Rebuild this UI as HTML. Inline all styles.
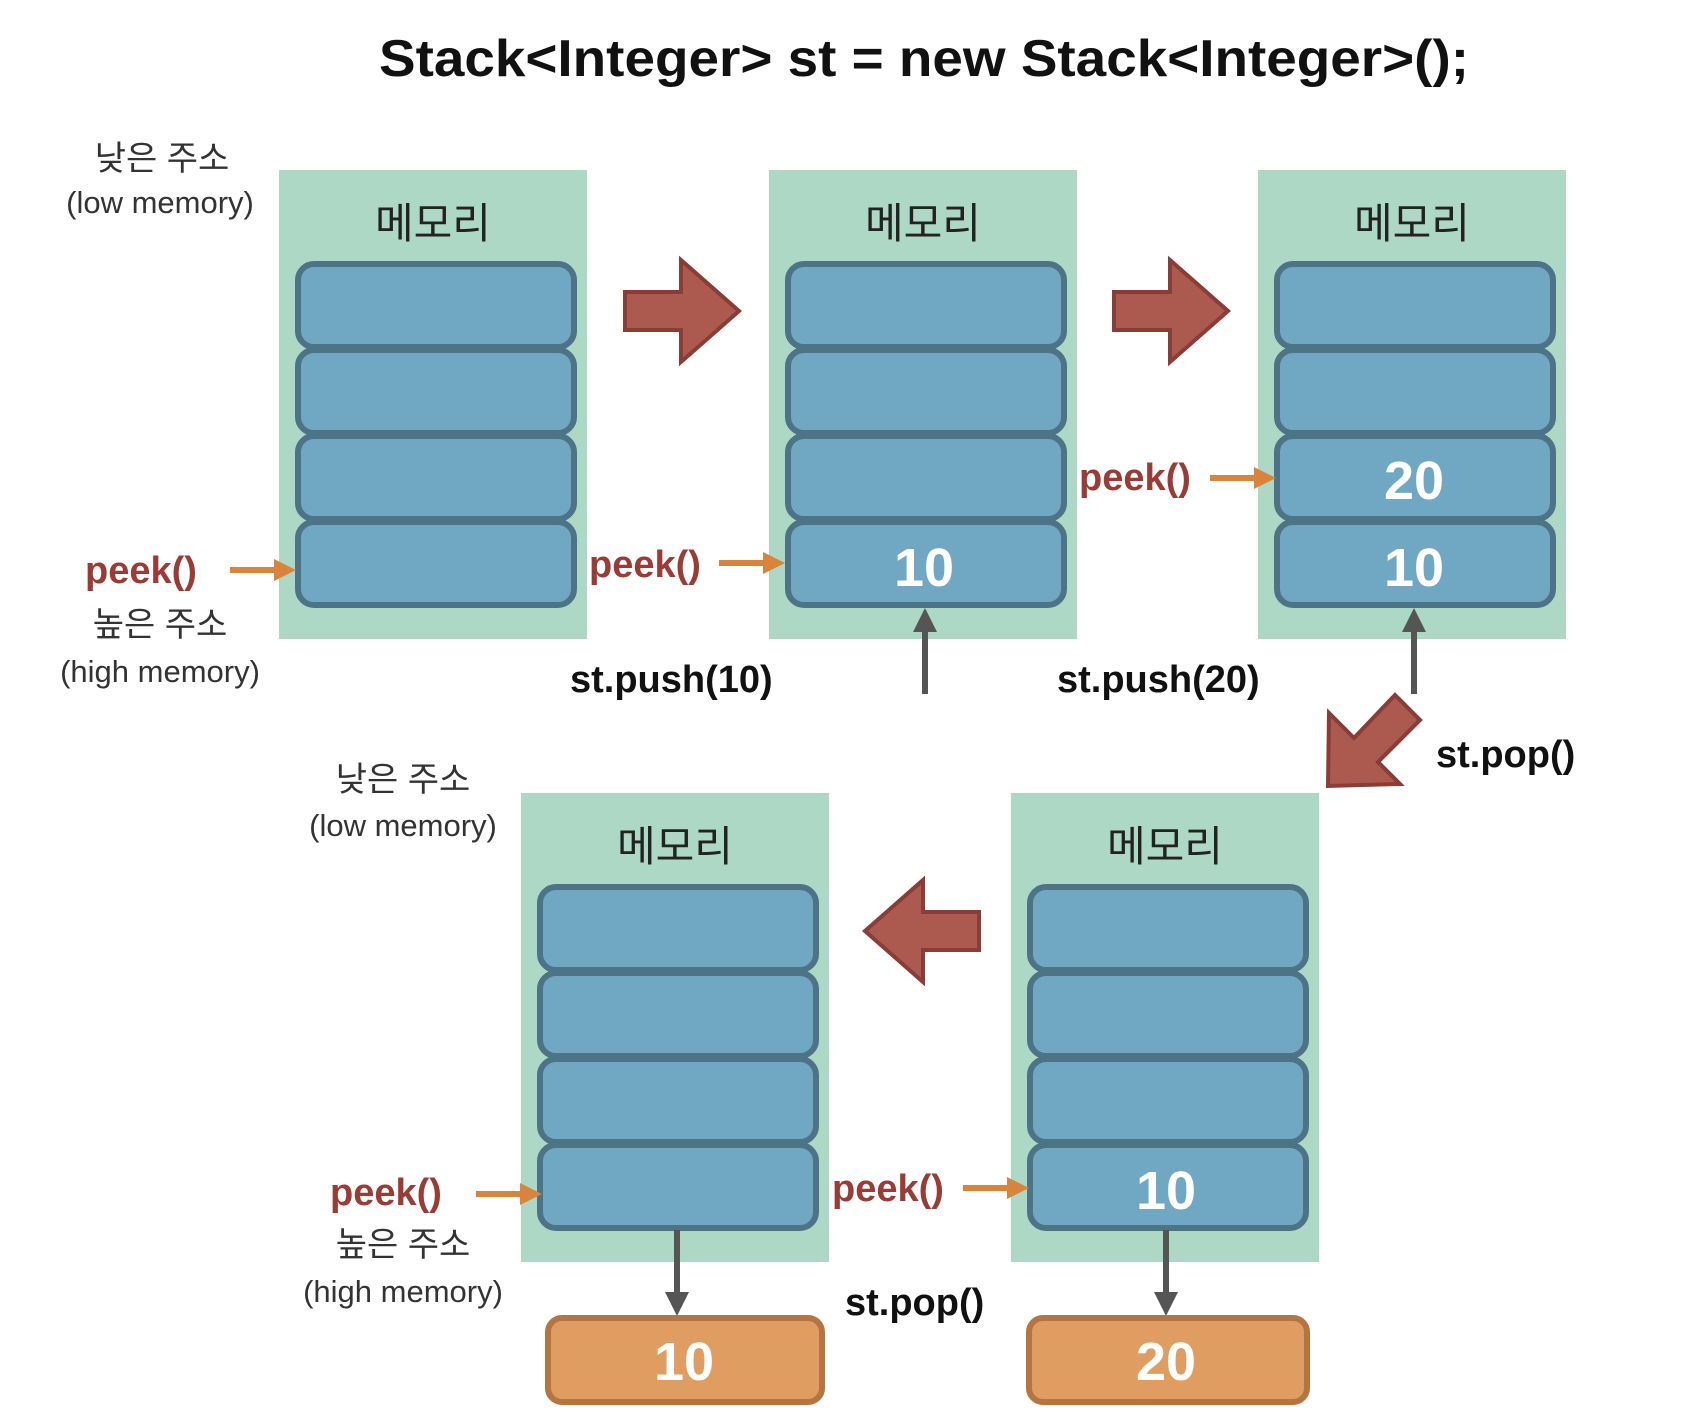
<!DOCTYPE html>
<html><head><meta charset="utf-8"><style>
html,body{margin:0;padding:0;background:#fff;}
svg{display:block;}
text{font-family:"Liberation Sans","Noto Sans CJK KR",sans-serif;}
</style></head><body>
<svg width="1696" height="1426" viewBox="0 0 1696 1426" xmlns="http://www.w3.org/2000/svg">
<defs>
<g id="panel">
  <rect x="0" y="0" width="308" height="469" fill="#aed8c6"/>
  <text x="154" y="68" font-size="42" text-anchor="middle" fill="#222">메모리</text>
  <rect x="19" y="94" width="276" height="83" rx="16" fill="#70a7c2" stroke="#4d7387" stroke-width="6"/>
  <rect x="19" y="180" width="276" height="83" rx="16" fill="#70a7c2" stroke="#4d7387" stroke-width="6"/>
  <rect x="19" y="266" width="276" height="83" rx="16" fill="#70a7c2" stroke="#4d7387" stroke-width="6"/>
  <rect x="19" y="352" width="276" height="83" rx="16" fill="#70a7c2" stroke="#4d7387" stroke-width="6"/>
</g>
<g id="orArrow"><line x1="0" y1="0" x2="50" y2="0" stroke="#d9843a" stroke-width="6"/><path d="M44,-11 L66,0 L44,11 z" fill="#d9843a"/></g>
<path id="bigR" d="M0,32 L56,32 L56,0 L114,51 L56,102 L56,70 L0,70 z" fill="#ac5a50" stroke="#8a3d37" stroke-width="4"/>
</defs>

<text x="924" y="76" font-size="52" font-weight="bold" text-anchor="middle" fill="#111" textLength="1090" lengthAdjust="spacingAndGlyphs">Stack&lt;Integer&gt; st = new Stack&lt;Integer&gt;();</text>

<use href="#panel" x="279" y="170"/>
<use href="#panel" x="769" y="170"/>
<use href="#panel" x="1258" y="170"/>
<use href="#panel" x="521" y="793"/>
<use href="#panel" x="1011" y="793"/>

<g font-size="54" font-weight="bold" fill="#fff" text-anchor="middle">
<text x="924" y="586">10</text>
<text x="1414" y="499">20</text>
<text x="1414" y="586">10</text>
<text x="1166" y="1209">10</text>
</g>

<use href="#bigR" x="625" y="260"/>
<use href="#bigR" x="1114" y="260"/>
<use href="#bigR" transform="translate(979,982) rotate(180)"/>
<path d="M1328,786 L1329,713 L1354,738 L1395,695 L1420,720 L1378,762 L1400,784 z" fill="#ac5a50" stroke="#8a3d37" stroke-width="4"/>

<g font-size="38" font-weight="bold" fill="#9b3b36">
<text x="85" y="583">peek()</text>
<text x="589" y="577">peek()</text>
<text x="1079" y="490">peek()</text>
<text x="330" y="1205">peek()</text>
<text x="832" y="1201">peek()</text>
</g>
<use href="#orArrow" x="230" y="570"/>
<use href="#orArrow" x="719" y="563"/>
<use href="#orArrow" x="1210" y="478"/>
<use href="#orArrow" x="476" y="1194"/>
<use href="#orArrow" x="963" y="1188"/>

<g font-size="34" fill="#333" text-anchor="middle">
<text x="162" y="170">낮은 주소</text>
<text x="160" y="213" font-size="31">(low memory)</text>
<text x="160" y="636">높은 주소</text>
<text x="160" y="682" font-size="31">(high memory)</text>
<text x="403" y="791">낮은 주소</text>
<text x="403" y="836" font-size="31">(low memory)</text>
<text x="403" y="1256">높은 주소</text>
<text x="403" y="1302" font-size="31">(high memory)</text>
</g>

<g font-size="38" font-weight="bold" fill="#111">
<text x="570" y="692">st.push(10)</text>
<text x="1057" y="692">st.push(20)</text>
<text x="1436" y="767">st.pop()</text>
<text x="845" y="1315">st.pop()</text>
</g>

<g stroke="#555" stroke-width="6">
<line x1="925" y1="694" x2="925" y2="630"/>
<line x1="1414" y1="694" x2="1414" y2="630"/>
<line x1="677" y1="1230" x2="677" y2="1296"/>
<line x1="1166" y1="1230" x2="1166" y2="1296"/>
</g>
<g fill="#555">
<path d="M913,632 L925,608 L937,632 z"/>
<path d="M1402,632 L1414,608 L1426,632 z"/>
<path d="M665,1292 L677,1316 L689,1292 z"/>
<path d="M1154,1292 L1166,1316 L1178,1292 z"/>
</g>

<rect x="548" y="1318" width="274" height="84" rx="14" fill="#e09d61" stroke="#b47543" stroke-width="6"/>
<rect x="1029" y="1318" width="278" height="84" rx="14" fill="#e09d61" stroke="#b47543" stroke-width="6"/>
<g font-size="54" font-weight="bold" fill="#fff" text-anchor="middle">
<text x="684" y="1380">10</text>
<text x="1166" y="1380">20</text>
</g>
</svg>
</body></html>
